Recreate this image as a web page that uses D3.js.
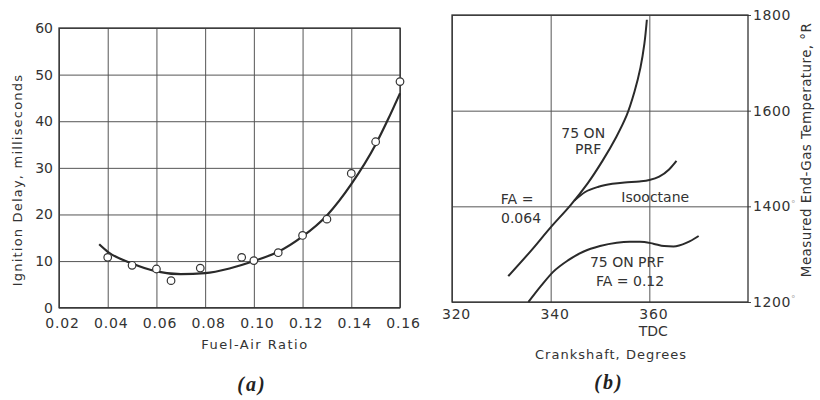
<!DOCTYPE html>
<html><head><meta charset="utf-8">
<script src="https://cdn.jsdelivr.net/npm/d3@7"></script>
<style>
body{margin:0;background:#fff;}
svg{display:block;font-family:"DejaVu Sans",sans-serif;}
</style></head>
<body><svg id="c" width="820" height="400"></svg>
<script>
// ---------- Chart (a) data ----------
const faTicks = [0.02,0.04,0.06,0.08,0.10,0.12,0.14,0.16];
const delayTicks = [0,10,20,30,40,50,60];
const obsFA    = [0.04,0.05,0.06,0.066,0.078,0.095,0.10,0.11,0.12,0.13,0.14,0.15,0.16];
const obsDelay = [10.8,9.1,8.3,5.8,8.5,10.8,10.1,11.8,15.5,19.0,28.8,35.6,48.5];
const fitFA    = [0.0365,0.04,0.05,0.06,0.07,0.08,0.09,0.10,0.11,0.12,0.13,0.14,0.15,0.155,0.16];
const fitDelay = [13.6,12.0,9.5,7.8,7.2,7.4,8.4,10.0,12.0,15.3,19.8,26.5,35.0,40.3,46.0];

// ---------- Chart (b) data ----------
const crankTicks = [320,340,360];
const tempTicks = [1200,1400,1600,1800];
const tempTickMarks = ["°","°","",""];
const prf064Crank = [331.4,336,340,344,347.5,350.5,353.3,355.4,357,358.2,359,359.5];
const prf064Temp  = [1254,1307,1356,1402,1448,1495,1545,1590,1640,1690,1740,1790];
const isoCrank = [344.8,347,349.7,352.5,355,358,360,362,364,365.5];
const isoTemp  = [1412,1430,1441,1447,1450,1452,1455,1462,1477,1495];
const prf12Crank = [335.5,338,340.5,343.5,346.6,350,353.4,356,358.1,360.8,363,364.9,367.6,370];
const prf12Temp  = [1200,1233,1263,1287,1305,1317,1324,1326,1326,1322,1317,1316,1324,1338];
const annLabels = [
  {t:"75 ON", c:346.6, T:1553},
  {t:"PRF", c:347.6, T:1520},
  {t:"FA =", c:333.2, T:1415},
  {t:"0.064", c:334.0, T:1376},
  {t:"Isooctane", c:361.2, T:1419},
  {t:"75 ON PRF", c:355.5, T:1284},
  {t:"FA = 0.12", c:356.1, T:1244}
];

const svg = d3.select("#c");
const ink = "#2a2a2a";

// ================= Chart (a) =================
const xA = d3.scaleLinear().domain([0.02,0.16]).range([59,400]);
const yA = d3.scaleLinear().domain([0,60]).range([307.7,28]);
const gA = svg.append("g");

const axA = gA.append("g").attr("transform",`translate(0,${yA(0)})`)
  .call(d3.axisBottom(xA).tickValues(faTicks).tickFormat(d3.format(".2f"))
    .tickSize(-(yA(0)-yA(60))).tickPadding(10));
const ayA = gA.append("g").attr("transform",`translate(${xA(0.02)},0)`)
  .call(d3.axisLeft(yA).tickValues(delayTicks).tickFormat(d3.format("d"))
    .tickSize(-(xA(0.16)-xA(0.02))).tickPadding(6));
[axA,ayA].forEach(a=>{
  a.select(".domain").remove();
  a.selectAll("line").attr("stroke","#555").attr("stroke-width",1);
  a.selectAll("text").attr("fill","#333").attr("font-size",14).attr("font-family","DejaVu Sans");
});
axA.selectAll("text").attr("letter-spacing",0.8).attr("dx",3);
gA.append("rect").attr("x",xA(0.02)).attr("y",yA(60))
  .attr("width",xA(0.16)-xA(0.02)).attr("height",yA(0)-yA(60))
  .attr("fill","none").attr("stroke","#333").attr("stroke-width",1.3);

const fitData = fitFA.map((d,i)=>[d,fitDelay[i]]);
gA.append("path").datum(fitData)
  .attr("d",d3.line().x(d=>xA(d[0])).y(d=>yA(d[1])).curve(d3.curveMonotoneX))
  .attr("fill","none").attr("stroke",ink).attr("stroke-width",2.2);

gA.selectAll("circle.obs").data(obsFA.map((d,i)=>[d,obsDelay[i]])).join("circle")
  .attr("class","obs").attr("cx",d=>xA(d[0])).attr("cy",d=>yA(d[1])).attr("r",3.8)
  .attr("fill","#fff").attr("stroke","#333").attr("stroke-width",1.2);

gA.append("text").attr("x",255).attr("y",349)
  .attr("text-anchor","middle").attr("font-size",13).attr("letter-spacing",1.5).attr("fill","#333")
  .text("Fuel-Air Ratio");
gA.append("text").attr("transform",`translate(22,180) rotate(-90)`)
  .attr("text-anchor","middle").attr("font-size",13).attr("letter-spacing",1.2).attr("fill","#333")
  .text("Ignition Delay, milliseconds");
gA.append("text").attr("x",252).attr("y",391).attr("text-anchor","middle")
  .attr("font-family","Liberation Serif").attr("font-style","italic").attr("font-weight","bold")
  .attr("font-size",20).attr("letter-spacing",2).attr("fill","#222").text("(a)");

// ================= Chart (b) =================
const xB = d3.scaleLinear().domain([320,380]).range([452,748]);
const yB = d3.scaleLinear().domain([1200,1800]).range([302,15]);
const gB = svg.append("g");

const axB = gB.append("g").attr("transform",`translate(0,${yB(1200)})`)
  .call(d3.axisBottom(xB).tickValues(crankTicks).tickFormat(d3.format("d"))
    .tickSize(-(yB(1200)-yB(1800))).tickPadding(7));
const ayB = gB.append("g").attr("transform",`translate(${xB(380)},0)`)
  .call(d3.axisRight(yB).tickValues(tempTicks).tickFormat(d3.format("d"))
    .tickSizeInner(-(xB(380)-xB(320))).tickSizeOuter(0).tickPadding(5));
[axB,ayB].forEach(a=>{
  a.select(".domain").remove();
  a.selectAll("line").attr("stroke","#555").attr("stroke-width",1);
  a.selectAll("text").attr("fill","#333").attr("font-size",14).attr("font-family","DejaVu Sans");
});
axB.selectAll("text").attr("letter-spacing",0.8).attr("dx",4);
ayB.selectAll(".tick text").attr("letter-spacing",0.6).append("tspan").attr("font-size",9).attr("fill","#aaa")
  .attr("dy","-0.5em").text((d,i)=>tempTickMarks[i]);
// short outward ticks on the right
ayB.selectAll(".tick").append("line").attr("x1",0).attr("x2",3)
  .attr("stroke","#444").attr("stroke-width",1);
// TDC under 360
gB.append("text").attr("x",xB(360)+4).attr("y",336).attr("text-anchor","middle")
  .attr("font-size",14).attr("fill","#333").text("TDC");

gB.append("rect").attr("x",xB(320)).attr("y",yB(1800))
  .attr("width",xB(380)-xB(320)).attr("height",yB(1200)-yB(1800))
  .attr("fill","none").attr("stroke","#333").attr("stroke-width",1.3);

const lineBx = d3.line().x(d=>xB(d[0])).y(d=>yB(d[1])).curve(d3.curveMonotoneX);
const lineBy = d3.line().x(d=>xB(d[0])).y(d=>yB(d[1])).curve(d3.curveMonotoneY);
gB.append("path").datum(prf064Crank.map((d,i)=>[d,prf064Temp[i]])).attr("d",lineBy)
  .attr("fill","none").attr("stroke",ink).attr("stroke-width",2);
[[isoCrank,isoTemp],[prf12Crank,prf12Temp]].forEach(([cx,ty])=>{
  gB.append("path").datum(cx.map((d,i)=>[d,ty[i]])).attr("d",lineBx)
    .attr("fill","none").attr("stroke",ink).attr("stroke-width",2);
});

gB.selectAll("text.ann").data(annLabels).join("text").attr("class","ann")
  .attr("x",d=>xB(d.c)).attr("y",d=>yB(d.T)).attr("dy","0.36em")
  .attr("text-anchor","middle").attr("font-size",14).attr("fill","#333")
  .text(d=>d.t);

gB.append("text").attr("x",611).attr("y",359)
  .attr("text-anchor","middle").attr("font-size",13).attr("letter-spacing",1).attr("fill","#333")
  .text("Crankshaft, Degrees");
gB.append("text").attr("transform",`translate(811,150) rotate(-90)`)
  .attr("text-anchor","middle").attr("font-size",13.5).attr("letter-spacing",0.4).attr("fill","#333")
  .text("Measured End-Gas Temperature, °R");
gB.append("text").attr("x",609).attr("y",389).attr("text-anchor","middle")
  .attr("font-family","Liberation Serif").attr("font-style","italic").attr("font-weight","bold")
  .attr("font-size",20).attr("letter-spacing",2).attr("fill","#222").text("(b)");
</script>
</body></html>
